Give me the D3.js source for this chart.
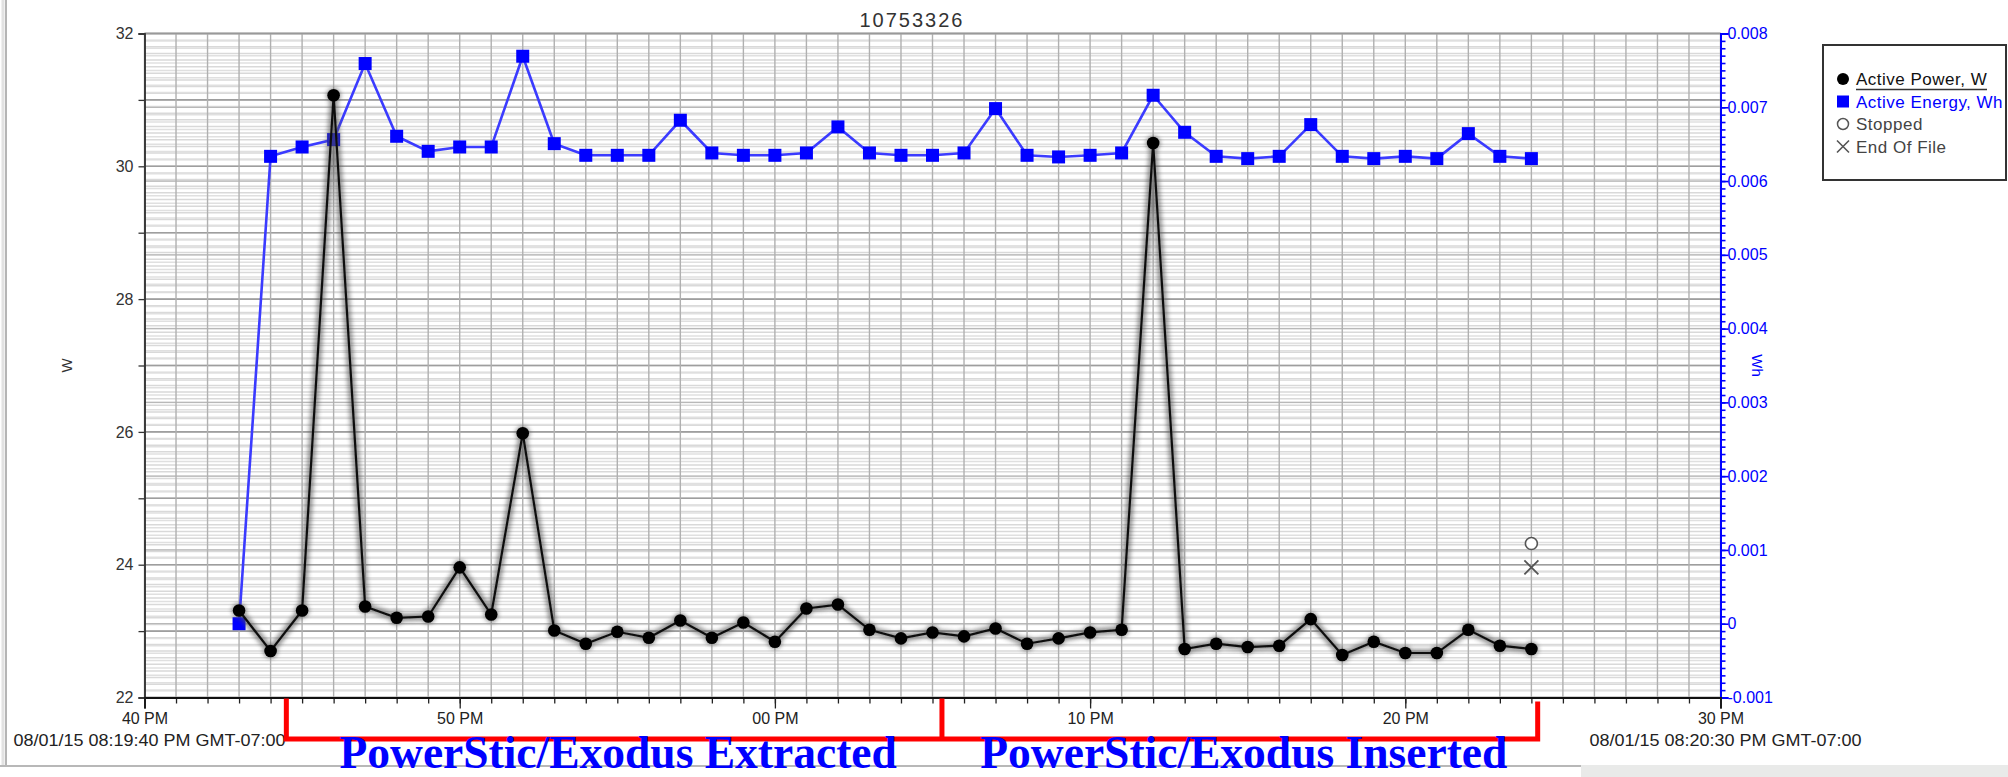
<!DOCTYPE html>
<html>
<head>
<meta charset="utf-8">
<script src="https://cdn.jsdelivr.net/npm/d3@7"></script>
<style>
  html, body { margin: 0; padding: 0; background: #fff; }
  svg { display: block; font-family: "Liberation Sans", Arial, sans-serif; }
</style>
</head>
<body>
<svg id="chart" width="2008" height="777"></svg>
<script>
// ---------------- DATA ----------------
const chartTitle = "10753326";
const times = [
  "20:19:43","20:19:44","20:19:45","20:19:46","20:19:47","20:19:48","20:19:49","20:19:50",
  "20:19:51","20:19:52","20:19:53","20:19:54","20:19:55","20:19:56","20:19:57","20:19:58",
  "20:19:59","20:20:00","20:20:01","20:20:02","20:20:03","20:20:04","20:20:05","20:20:06",
  "20:20:07","20:20:08","20:20:09","20:20:10","20:20:11","20:20:12","20:20:13","20:20:14",
  "20:20:15","20:20:16","20:20:17","20:20:18","20:20:19","20:20:20","20:20:21","20:20:22",
  "20:20:23","20:20:24"
];
const activePowerW = [
  23.31, 22.70, 23.31, 31.07, 23.37, 23.20, 23.22, 23.96,
  23.25, 25.98, 23.01, 22.81, 22.99, 22.90, 23.16, 22.90,
  23.13, 22.84, 23.34, 23.40, 23.02, 22.89, 22.98, 22.92,
  23.04, 22.81, 22.89, 22.98, 23.02, 30.35, 22.73, 22.81,
  22.76, 22.78, 23.18, 22.64, 22.84, 22.67, 22.67, 23.02,
  22.78, 22.73
];
const activeEnergyWh = [
  0.000000, 0.006335, 0.006462, 0.006562, 0.007593, 0.006607, 0.006403, 0.006462,
  0.006462, 0.007692, 0.006507, 0.006349, 0.006349, 0.006349, 0.006824, 0.006381,
  0.006349, 0.006349, 0.006381, 0.006734, 0.006381, 0.006349, 0.006349, 0.006381,
  0.006982, 0.006349, 0.006327, 0.006349, 0.006381, 0.007163, 0.006661, 0.006335,
  0.006304, 0.006335, 0.006765, 0.006335, 0.006304, 0.006335, 0.006304, 0.006643,
  0.006335, 0.006304
];
const stoppedPoint = { time: "20:20:24", value: 24.32 };
const endOfFilePoint = { time: "20:20:24", value: 23.96 };

const xDomain = ["20:19:40", "20:20:30"];
const xMajorTicks = ["20:19:40","20:19:50","20:20:00","20:20:10","20:20:20","20:20:30"];
const xTickLabels = ["40 PM","50 PM","00 PM","10 PM","20 PM","30 PM"];
const xEdgeLabels = ["08/01/15 08:19:40 PM GMT-07:00", "08/01/15 08:20:30 PM GMT-07:00"];

const leftDomain = [22, 32];
const leftMajorTicks = [22, 24, 26, 28, 30, 32];
const leftMinorTicks = [23, 25, 27, 29, 31];
const leftTickLabels = ["22","24","26","28","30","32"];
const rightDomain = [-0.001, 0.008];
const rightMajorTicks = [-0.001, 0, 0.001, 0.002, 0.003, 0.004, 0.005, 0.006, 0.007, 0.008];
const rightTickLabels = ["-0.001","0","0.001","0.002","0.003","0.004","0.005","0.006","0.007","0.008"];

const leftAxisTitle = "W";
const rightAxisTitle = "Wh";
const legendItems = ["Active Power, W", "Active Energy, Wh", "Stopped", "End Of File"];

const bracketTimes = ["20:19:44.5", "20:20:05.3", "20:20:24.2"];
const bracketLabels = ["PowerStic/Exodus Extracted", "PowerStic/Exodus Inserted"];

// ---------------- HELPERS ----------------
function parseT(s) {
  const [h, m, sec] = s.split(":");
  const sf = parseFloat(sec);
  const whole = Math.floor(sf);
  return new Date(2015, 7, 1, +h, +m, whole, Math.round((sf - whole) * 1000));
}

// ---------------- LAYOUT ----------------
const W = 2008, H = 777;
const plot = { left: 144.5, right: 1720.5, top: 33.5, bottom: 697.5 };
const SANS = "'Liberation Sans', Arial, sans-serif";
const SERIF = "'Liberation Serif', 'Times New Roman', serif";

const svg = d3.select("#chart");

const x = d3.scaleTime().domain(xDomain.map(parseT)).range([plot.left, plot.right]);
const yL = d3.scaleLinear().domain(leftDomain).range([plot.bottom, plot.top]);
const yR = d3.scaleLinear().domain(rightDomain).range([plot.bottom, plot.top]);

const defs = svg.append("defs");
defs.append("filter").attr("id", "glow").attr("x", "-20%").attr("y", "-20%").attr("width", "140%").attr("height", "140%")
  .append("feGaussianBlur").attr("stdDeviation", 2.2);
defs.append("filter").attr("id", "soft").append("feGaussianBlur").attr("stdDeviation", 0.45);

// window frame (left border, bottom border)
svg.append("line").attr("x1", 3).attr("x2", 3).attr("y1", 0).attr("y2", 766).attr("stroke", "#e2e2e2").attr("stroke-width", 3);
svg.append("line").attr("x1", 6).attr("x2", 6).attr("y1", 0).attr("y2", 766).attr("stroke", "#9d9d9d").attr("stroke-width", 1.5);
svg.append("line").attr("x1", 0).attr("x2", 1581).attr("y1", 766).attr("y2", 766).attr("stroke", "#b8b8b8").attr("stroke-width", 2);
svg.append("rect").attr("x", 1581).attr("y", 765).attr("width", W - 1581).attr("height", H - 765).attr("fill", "#e9eae9");

// ---------------- GRID ----------------
const grid = svg.append("g").attr("filter", "url(#soft)");
const leftMinorGrid = d3.range(leftDomain[0] * 10, leftDomain[1] * 10 + 1).map(v => v / 10);
const rightMinorGrid = d3.range(-10, 81).map(v => v / 10000);

grid.selectAll(".gLm").data(leftMinorGrid).join("line")
  .attr("x1", plot.left).attr("x2", plot.right)
  .attr("y1", d => yL(d)).attr("y2", d => yL(d))
  .attr("stroke", "#d9d9d9").attr("stroke-width", 1.5);
grid.selectAll(".gRm").data(rightMinorGrid).join("line")
  .attr("x1", plot.left).attr("x2", plot.right)
  .attr("y1", d => yR(d)).attr("y2", d => yR(d))
  .attr("stroke", "#e0e0e0").attr("stroke-width", 1.5);
grid.selectAll(".gRM").data(rightMajorTicks).join("line")
  .attr("x1", plot.left).attr("x2", plot.right)
  .attr("y1", d => yR(d)).attr("y2", d => yR(d))
  .attr("stroke", "#b8b8b8").attr("stroke-width", 1.3);
grid.selectAll(".gLM").data(leftMajorTicks.concat(leftMinorTicks)).join("line")
  .attr("x1", plot.left).attr("x2", plot.right)
  .attr("y1", d => yL(d)).attr("y2", d => yL(d))
  .attr("stroke", "#9e9e9e").attr("stroke-width", 1.6);
const secTicks = x.ticks(d3.timeSecond.every(1));
grid.selectAll(".gV").data(secTicks).join("line")
  .attr("x1", d => x(d)).attr("x2", d => x(d))
  .attr("y1", plot.top).attr("y2", plot.bottom)
  .attr("stroke", "#b0b0b0").attr("stroke-width", 1.4);
// top border
svg.append("line").attr("x1", plot.left).attr("x2", plot.right).attr("y1", plot.top).attr("y2", plot.top)
  .attr("stroke", "#999").attr("stroke-width", 1.5);

// ---------------- AXES ----------------
// left axis
const gL = svg.append("g").attr("transform", `translate(${plot.left},0)`);
gL.call(d3.axisLeft(yL).tickValues(leftMajorTicks).tickSize(6).tickPadding(5)
  .tickFormat((d, i) => leftTickLabels[i]));
gL.append("g").call(d3.axisLeft(yL).tickValues(leftMinorTicks).tickSize(6).tickFormat(""));
gL.selectAll("path.domain").attr("stroke", "#333").attr("stroke-width", 1.5);
gL.selectAll("line").attr("stroke", "#333").attr("stroke-width", 1.3);
gL.selectAll("text").style("font-size", "16px").style("font-family", SANS).attr("fill", "#333");

// right axis
const gR = svg.append("g").attr("transform", `translate(${plot.right},0)`);
gR.append("g").call(d3.axisRight(yR).tickValues(rightMinorGrid).tickSize(5).tickFormat(""));
gR.append("g").call(d3.axisRight(yR).tickValues(rightMajorTicks).tickSize(8).tickPadding(-1)
  .tickFormat((d, i) => rightTickLabels[i]));
gR.selectAll("path.domain").attr("stroke", "#0000ff").attr("stroke-width", 2);
gR.selectAll("line").attr("stroke", "#0000ff").attr("stroke-width", 1.6);
gR.selectAll("text").style("font-size", "16px").style("font-family", SANS).attr("fill", "#0000ff");

// bottom axis
const gB = svg.append("g").attr("transform", `translate(0,${plot.bottom})`);
gB.append("g").call(d3.axisBottom(x).tickValues(secTicks).tickSize(6).tickFormat(""));
gB.append("g").call(d3.axisBottom(x).tickValues(xMajorTicks.map(parseT)).tickSize(11).tickPadding(4)
  .tickFormat((d, i) => xTickLabels[i]));
gB.selectAll("path.domain").attr("stroke", "#111").attr("stroke-width", 2);
gB.selectAll("line").attr("stroke", "#222").attr("stroke-width", 1.3);
gB.selectAll("text").style("font-size", "16px").style("font-family", SANS).attr("fill", "#222");

// edge date labels
svg.selectAll(".edgeLbl").data(xEdgeLabels).join("text")
  .attr("x", (d, i) => x(parseT(xDomain[i])) + 5)
  .attr("y", 746)
  .attr("text-anchor", "middle")
  .attr("textLength", 272).attr("lengthAdjust", "spacingAndGlyphs")
  .style("font-size", "16px").style("font-family", SANS).attr("fill", "#222")
  .text(d => d);

// axis titles
svg.append("text").attr("transform", `translate(72,${(plot.top + plot.bottom) / 2}) rotate(-90)`)
  .attr("text-anchor", "middle").style("font-size", "15px").attr("fill", "#333").text(leftAxisTitle);
svg.append("text").attr("transform", `translate(1752,${(plot.top + plot.bottom) / 2}) rotate(90)`)
  .attr("text-anchor", "middle").style("font-size", "15px").attr("fill", "#0000ff").text(rightAxisTitle);

// title
svg.append("text").attr("x", 912).attr("y", 27).attr("text-anchor", "middle")
  .style("font-size", "20px").attr("fill", "#333").attr("letter-spacing", 2).text(chartTitle);

// ---------------- SERIES ----------------
const tDates = times.map(parseT);
const powerPts = tDates.map((t, i) => [t, activePowerW[i]]);
const energyPts = tDates.map((t, i) => [t, activeEnergyWh[i]]);

const linePow = d3.line().x(d => x(d[0])).y(d => yL(d[1]));
const lineEn = d3.line().x(d => x(d[0])).y(d => yR(d[1]));

// energy (blue)
svg.append("path").datum(energyPts).attr("d", lineEn)
  .attr("fill", "none").attr("stroke", "#3b3bff").attr("stroke-width", 2.6).attr("filter", "url(#soft)");
svg.selectAll(".sq").data(energyPts).join("rect")
  .attr("x", d => x(d[0]) - 6.5).attr("y", d => yR(d[1]) - 6.5)
  .attr("width", 13).attr("height", 13).attr("fill", "#0000ff").attr("filter", "url(#soft)");

// power (black) with gray glow
const glowG = svg.append("g").attr("filter", "url(#glow)").attr("opacity", 0.6);
glowG.append("path").datum(powerPts).attr("d", linePow)
  .attr("fill", "none").attr("stroke", "#555").attr("stroke-width", 8);
glowG.selectAll("circle").data(powerPts).join("circle")
  .attr("cx", d => x(d[0])).attr("cy", d => yL(d[1])).attr("r", 7.5).attr("fill", "#555");
svg.append("path").datum(powerPts).attr("d", linePow)
  .attr("fill", "none").attr("stroke", "#111").attr("stroke-width", 2.2).attr("filter", "url(#soft)");
svg.selectAll(".dot").data(powerPts).join("circle")
  .attr("cx", d => x(d[0])).attr("cy", d => yL(d[1])).attr("r", 6.3).attr("fill", "#000").attr("filter", "url(#soft)");

// stopped & end of file markers
svg.append("circle").attr("cx", x(parseT(stoppedPoint.time))).attr("cy", yL(stoppedPoint.value))
  .attr("r", 6).attr("fill", "#fff").attr("stroke", "#555").attr("stroke-width", 1.6);
const ex = x(parseT(endOfFilePoint.time)), ey = yL(endOfFilePoint.value);
svg.append("path").attr("d", `M${ex - 7},${ey - 7}L${ex + 7},${ey + 7}M${ex - 7},${ey + 7}L${ex + 7},${ey - 7}`)
  .attr("stroke", "#555").attr("stroke-width", 1.8).attr("fill", "none");

// ---------------- LEGEND ----------------
const lg = svg.append("g");
lg.append("rect").attr("x", 1823).attr("y", 45).attr("width", 183).attr("height", 135)
  .attr("fill", "#fff").attr("stroke", "#333").attr("stroke-width", 2);
const lgY = [79, 101.5, 124, 146.5];
const lgColors = ["#111", "#0000ff", "#444", "#444"];
lg.append("circle").attr("cx", 1843).attr("cy", lgY[0]).attr("r", 6).attr("fill", "#000");
lg.append("rect").attr("x", 1837).attr("y", lgY[1] - 6).attr("width", 12).attr("height", 12).attr("fill", "#0000ff");
lg.append("circle").attr("cx", 1843).attr("cy", lgY[2]).attr("r", 5.5).attr("fill", "#fff").attr("stroke", "#555").attr("stroke-width", 1.5);
lg.append("path").attr("d", `M1837,${lgY[3] - 6}L1849,${lgY[3] + 6}M1837,${lgY[3] + 6}L1849,${lgY[3] - 6}`)
  .attr("stroke", "#555").attr("stroke-width", 1.6);
lg.selectAll(".lt").data(legendItems).join("text")
  .attr("x", 1856).attr("y", (d, i) => lgY[i] + 6)
  .style("font-size", "17px").style("font-family", SANS).attr("letter-spacing", 0.5).attr("fill", (d, i) => lgColors[i])
  .text(d => d);
lg.append("line").attr("x1", 1856).attr("x2", 1987).attr("y1", 89.5).attr("y2", 89.5)
  .attr("stroke", "#333").attr("stroke-width", 1.5);

// ---------------- ANNOTATION BRACKET ----------------
const bx = bracketTimes.map(parseT).map(x);
const bTop = plot.bottom + 1, bBot = 739;
svg.append("path")
  .attr("d", `M${bx[0]},${bTop}L${bx[0]},${bBot}L${bx[2]},${bBot}L${bx[2]},${bTop + 3}M${bx[1]},${bTop}L${bx[1]},${bBot}`)
  .attr("fill", "none").attr("stroke", "#ff0000").attr("stroke-width", 5).attr("stroke-linejoin", "miter");
svg.selectAll(".bl").data(bracketLabels).join("text")
  .attr("x", (d, i) => (bx[i] + bx[i + 1]) / 2 + 4)
  .attr("y", 768)
  .attr("text-anchor", "middle")
  .style("font-family", SERIF)
  .style("font-weight", "bold").style("font-size", "45.5px").attr("fill", "#0000ff")
  .text(d => d);
</script>
</body>
</html>
